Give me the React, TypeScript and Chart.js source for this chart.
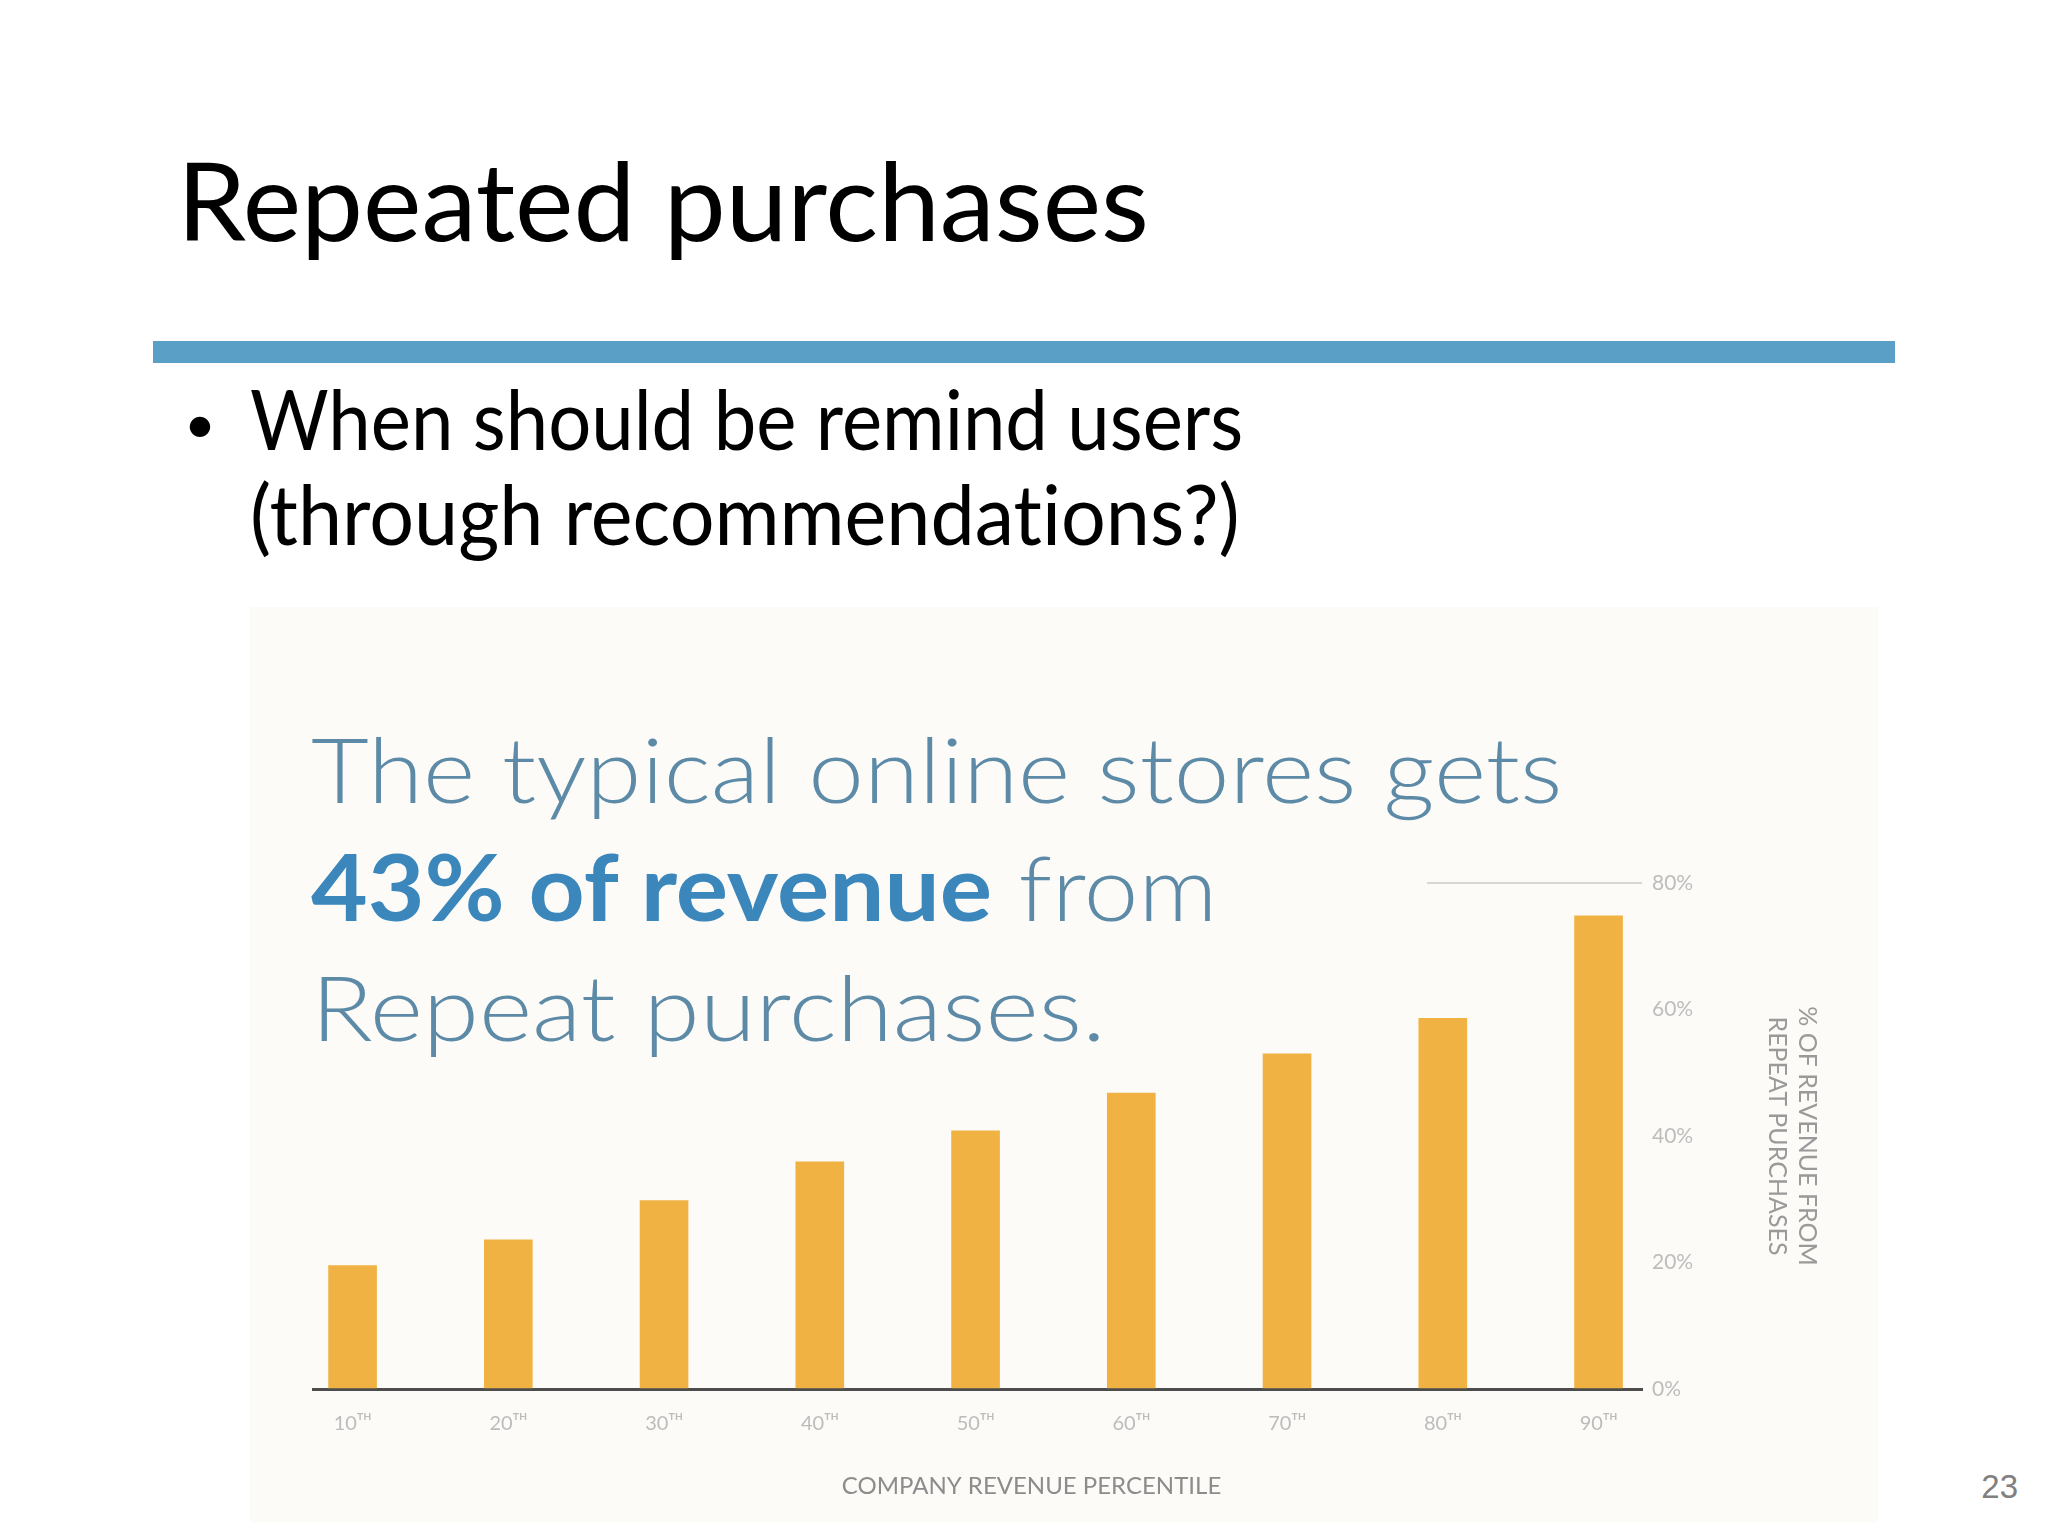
import React, { useEffect, useLayoutEffect, useRef } from 'react';
import { Chart, registerables } from 'chart.js';

Chart.register(...registerables);

// ---- data ----
const percentiles = [10, 20, 30, 40, 50, 60, 70, 80, 90];
const percentileLabels = ['10ᵀᴴ', '20ᵀᴴ', '30ᵀᴴ', '40ᵀᴴ', '50ᵀᴴ', '60ᵀᴴ', '70ᵀᴴ', '80ᵀᴴ', '90ᵀᴴ'];
const repeatShare = [19.5, 23.6, 29.8, 35.9, 40.8, 46.8, 53.0, 58.6, 74.8];
const shareTicks = [0, 20, 40, 60, 80];
const shareTickLabels = ['0%', '20%', '40%', '60%', '80%'];
const xAxisTitle = '\u2003\u2003\u2003\u2003\u2003\u2003COMPANY REVENUE PERCENTILE';
const yAxisTitle = ['% OF REVENUE FROM', 'REPEAT PURCHASES'];
const xRange = [7.46, 92.79];
const yRange = [0, 80];

const CREAM = '#fdfbf8';

function FitText({ width, style, children }: { width: number; style?: React.CSSProperties; children: React.ReactNode }) {
  const ref = useRef<HTMLSpanElement>(null);
  useLayoutEffect(() => {
    const fit = () => {
      const el = ref.current;
      if (!el) return;
      el.style.transform = 'none';
      const w = el.offsetWidth;
      if (w > 0) el.style.transform = `scaleX(${width / w})`;
    };
    fit();
    if ((document as any).fonts?.ready) (document as any).fonts.ready.then(fit);
  });
  return (
    <span
      ref={ref}
      style={{ display: 'inline-block', whiteSpace: 'pre', transformOrigin: '0 0', fontVariantLigatures: 'none', ...style }}
    >
      {children}
    </span>
  );
}

function BarChart() {
  const canvasRef = useRef<HTMLCanvasElement>(null);
  useEffect(() => {
    const canvas = canvasRef.current;
    if (!canvas) return;
    const chart = new Chart(canvas, {
      type: 'bar',
      data: {
        datasets: [
          {
            data: percentiles.map((p, i) => ({ x: p, y: repeatShare[i] })),
            backgroundColor: '#F0B243',
            borderWidth: 0,
            barThickness: 48,
          },
        ],
      },
      options: {
        animation: false,
        responsive: false,
        maintainAspectRatio: false,
        devicePixelRatio: 1,
        layout: { padding: { left: 66, top: 276, right: 56, bottom: 21 } },
        plugins: { legend: { display: false }, tooltip: { enabled: false } },
        scales: {
          x: {
            type: 'linear',
            offset: false,
            min: xRange[0],
            max: xRange[1],
            afterBuildTicks: (scale: any) => {
              scale.ticks = percentiles.map((v) => ({ value: v }));
            },
            afterFit: (scale: any) => {
              scale.height = 112;
            },
            grid: { display: false, drawTicks: false, offset: false },
            border: { display: true, color: '#4d4d4d', width: 3 },
            ticks: {
              callback: (_v: any, i: number) => percentileLabels[i],
              color: '#bcbcbc',
              padding: 23,
              maxRotation: 0,
              autoSkip: false,
              font: { family: 'Lato', size: 20 },
            },
            title: {
              display: true,
              text: xAxisTitle,
              color: '#8c8c8c',
              padding: { top: 0, bottom: 0 },
              font: { family: 'Lato', size: 24, lineHeight: 1.2 },
            },
          },
          y: {
            type: 'linear',
            position: 'right',
            min: yRange[0],
            max: yRange[1],
            afterBuildTicks: (scale: any) => {
              scale.ticks = shareTicks.map((v) => ({ value: v }));
            },
            afterFit: (scale: any) => {
              scale.width = 180;
            },
            grid: {
              drawTicks: false,
              lineWidth: 2,
              color: (ctx: any) => (ctx.tick && ctx.tick.value === yRange[1] ? '#d6d6d6' : 'rgba(0,0,0,0)'),
            },
            border: { display: false },
            ticks: {
              callback: (_v: any, i: number) => shareTickLabels[i],
              color: '#bdbdbd',
              padding: 10,
              font: { family: 'Lato', size: 21 },
            },
            title: {
              display: true,
              text: yAxisTitle,
              color: '#9a9a9a',
              padding: { top: 0, bottom: 0 },
              font: { family: 'Lato', size: 25, lineHeight: 1.2 },
            },
          },
        },
      },
    } as any);
    return () => chart.destroy();
  }, []);
  return <canvas ref={canvasRef} width={1631} height={915} style={{ display: 'block' }} />;
}

export default function App() {
  useEffect(() => {
    document.body.style.margin = '0';
    document.body.style.overflow = 'hidden';
  }, []);

  const abs = (o: React.CSSProperties): React.CSSProperties => ({ position: 'absolute', ...o });

  return (
    <div style={abs({ left: 0, top: 0, width: 2048, height: 1536, background: '#ffffff', overflow: 'hidden' })}>
      {/* slide title */}
      <div style={abs({ left: 177, top: 134, fontFamily: 'Lato', fontSize: 109, lineHeight: 1.2, color: '#000' })}>
        <FitText width={972}>Repeated purchases</FitText>
      </div>
      {/* blue rule */}
      <div style={abs({ left: 153, top: 341, width: 1742, height: 22, background: '#5a9fc5' })} />
      {/* bullet */}
      <div style={abs({ left: 184, top: 389, fontFamily: 'Lato', fontSize: 55, lineHeight: 1.2, color: '#000' })}>•</div>
      <div style={abs({ left: 250, top: 369, fontFamily: 'Lato', fontSize: 83, lineHeight: 1.2, color: '#000' })}>
        <FitText width={993}>When should be remind users</FitText>
      </div>
      <div style={abs({ left: 250, top: 464, fontFamily: 'Lato', fontSize: 83, lineHeight: 1.2, color: '#000' })}>
        <FitText width={990}>(through recommendations?)</FitText>
      </div>

      {/* chart panel */}
      <div style={abs({ left: 250, top: 607, width: 1628, height: 915, background: CREAM })}>
        <div style={abs({ left: -3, top: 0 })}>
          <BarChart />
        </div>
      </div>

      {/* headline (its box hides the left part of the top grid line) */}
      <div style={abs({ left: 300, top: 700, width: 1127, height: 250, background: CREAM, zIndex: 2 })}>
        <div style={abs({ left: 11, top: 13, fontFamily: 'Lato', fontWeight: 300, fontSize: 91, lineHeight: 1.2, color: '#5d8ba7' })}>
          <FitText width={1252}>The typical online stores gets</FitText>
        </div>
        <div style={abs({ left: 11, top: 131, fontFamily: 'Lato', fontWeight: 300, fontSize: 91, lineHeight: 1.2, color: '#5d8ba7' })}>
          <FitText width={906}>
            <span style={{ fontWeight: 700, color: '#3b87bc' }}>43% of revenue</span> from
          </FitText>
        </div>
      </div>
      <div style={abs({ left: 311, top: 951, fontFamily: 'Lato', fontWeight: 300, fontSize: 91, lineHeight: 1.2, color: '#5d8ba7', zIndex: 2 })}>
        <FitText width={795}>Repeat purchases.</FitText>
      </div>

      {/* page number */}
      <div style={abs({ right: 30, top: 1470, fontFamily: 'Liberation Sans', fontSize: 33, lineHeight: 1, color: '#808080' })}>23</div>
    </div>
  );
}
